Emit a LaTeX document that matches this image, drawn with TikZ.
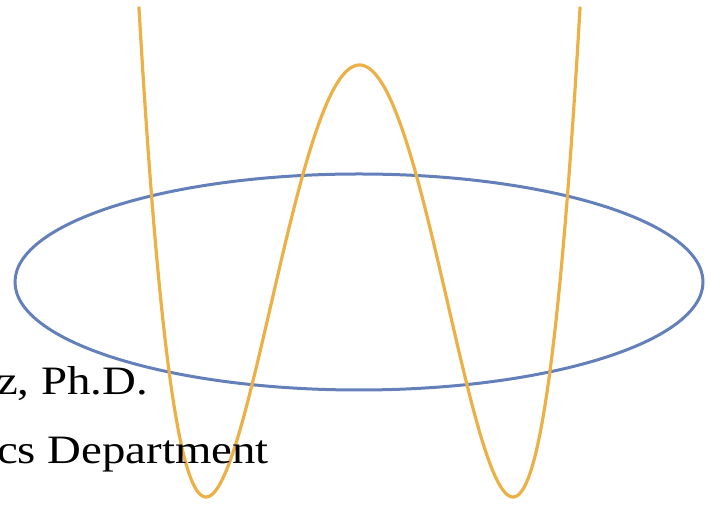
\documentclass[tikz,border=0pt]{standalone}
\usepackage{fontspec}
\setmainfont{Liberation Serif}
\usepackage{graphicx}
\usetikzlibrary{positioning}
\definecolor{wavecol}{RGB}{236,176,70}
\definecolor{ringcol}{RGB}{100,128,186}

\begin{document}
\begin{tikzpicture}[x=1pt, y=1pt,
    wave/.style={wavecol, line width=3.2pt},
    ring/.style={ringcol, line width=3pt},
    label/.style={font=\fontsize{36}{40}\selectfont, inner sep=0pt, anchor=base east}]
    \useasboundingbox (0,0) rectangle (714,505);

    \draw[ring] (359,223) ellipse [x radius=344, y radius=108];
    \draw[wave] plot[domain=138.9:580.1, samples=240]
        (\x, {8 + 432*(((\x-359.5)/153.5)^2-1)^2});

    \node[label] (name) at (148,110) {\scalebox{1.3}[1.12]{z, Ph.D.}};
    \node[label] (dept) at (269,41) {\scalebox{1.3}[1.12]{cs Department}};
\end{tikzpicture}
\end{document}
